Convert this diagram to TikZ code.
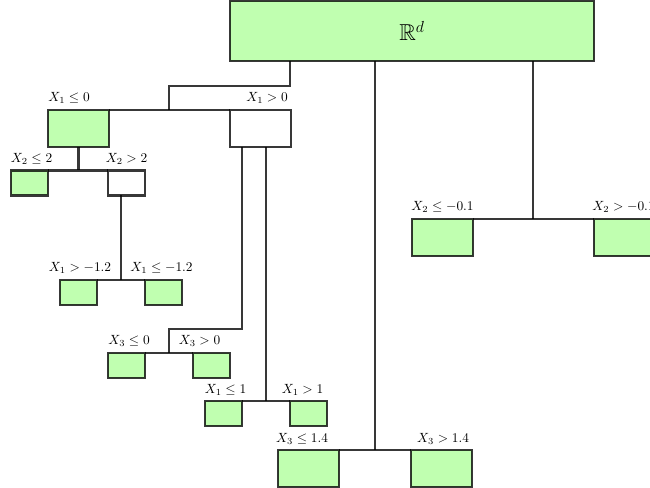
\documentclass[tikz,border=0pt]{standalone}
\usepackage{amssymb}
\definecolor{leafgreen}{RGB}{192,255,176}

\begin{document}
\begin{tikzpicture}[x=0.75pt,y=-0.75pt,
  edge/.style={draw=black, draw opacity=0.78, line width=1.8pt},
  cell/.style={edge, rectangle, inner sep=0pt, outer sep=0pt},
  leaf/.style={cell, fill=leafgreen},
  bigcell/.style={minimum width=45.75pt, minimum height=27.75pt},
  smallcell/.style={minimum width=27.75pt, minimum height=18.75pt},
  split/.style={anchor=base, inner sep=0pt}]
\useasboundingbox (0,0) rectangle (650,488);
\node[leaf, minimum width=273pt, minimum height=45pt] (root) at (412,31) {\LARGE $\mathbb{R}^d$};
\node[leaf, bigcell] (a) at (78.5,128.5) {};
\node[cell, bigcell] (b) at (260.5,128.5) {};
\node[leaf, smallcell] (c) at (29.5,183) {};
\node[cell, smallcell] (d) at (126.5,183) {};
\node[leaf, smallcell] (e) at (78.5,292.5) {};
\node[leaf, smallcell] (f) at (163.5,292.5) {};
\node[leaf, smallcell] (g) at (126.5,365.5) {};
\node[leaf, smallcell] (h) at (211.5,365.5) {};
\node[leaf, smallcell] (i) at (223.5,413.5) {};
\node[leaf, smallcell] (j) at (308.5,413.5) {};
\node[leaf, bigcell] (k) at (308.5,468.5) {};
\node[leaf, bigcell] (l) at (441.5,468.5) {};
\node[leaf, bigcell] (m) at (442.5,237.5) {};
\node[leaf, bigcell] (n) at (624.5,237.5) {};
\node[split] (la) at (69,102) {$X_1 \leq 0$};
\node[split] (lb) at (267,102) {$X_1 > 0$};
\node[split] (lc) at (31.5,163) {$X_2 \leq 2$};
\node[split] (ld) at (126.5,163) {$X_2 > 2$};
\node[split] (le) at (80,272) {$X_1 > -1.2$};
\node[split] (lf) at (161.5,272) {$X_1 \leq -1.2$};
\node[split] (lg) at (129,345) {$X_3 \leq 0$};
\node[split] (lh) at (199.5,345) {$X_3 > 0$};
\node[split] (li) at (225.5,393) {$X_1 \leq 1$};
\node[split] (lj) at (302.5,393) {$X_1 > 1$};
\node[split] (lk) at (302,442) {$X_3 \leq 1.4$};
\node[split] (ll) at (443,442) {$X_3 > 1.4$};
\node[split] (lm) at (442.5,211) {$X_2 \leq -0.1$};
\node[split] (ln) at (623.5,211) {$X_2 > -0.1$};
\coordinate (t1) at (290,86);
\coordinate (t2) at (169,86);
\coordinate (t3) at (121,280);
\coordinate (t4) at (242,329);
\coordinate (t5) at (169,329);
\coordinate (t6) at (266,401);
\coordinate (t7) at (375,450);
\coordinate (t8) at (533,219);
\draw[edge] (root.south -| t1) -- (t1) -- (t2) -- (t2 |- a.north);
\draw[edge] (a.north east) -- (b.north west);
\draw[edge] (a.south) -- (a.south |- c.north);
\draw[edge] (c.north east) -- (d.north west);
\draw[edge] (d.south -| t3) -- (t3);
\draw[edge] (e.north east) -- (f.north west);
\draw[edge] (b.south -| t4) -- (t4) -- (t5) -- (t5 |- g.north);
\draw[edge] (g.north east) -- (h.north west);
\draw[edge] (b.south -| t6) -- (t6);
\draw[edge] (i.north east) -- (j.north west);
\draw[edge] (root.south -| t7) -- (t7);
\draw[edge] (k.north east) -- (l.north west);
\draw[edge] (root.south -| t8) -- (t8);
\draw[edge] (m.north east) -- (n.north west);
\end{tikzpicture}
\end{document}
